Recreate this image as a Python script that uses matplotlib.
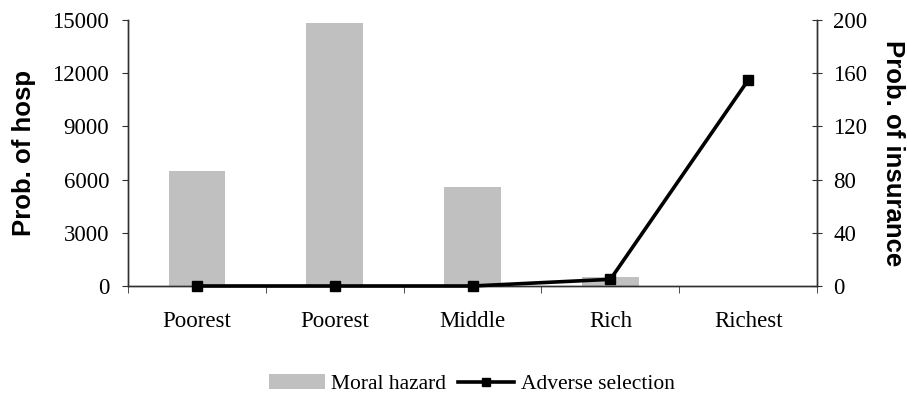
import matplotlib.pyplot as plt
import numpy as np
from matplotlib.patches import Patch
from matplotlib.lines import Line2D

categories = ["Poorest", "Poorest", "Middle", "Rich", "Richest"]
moral_hazard = [6500, 14850, 5600, 500, 0]
adverse_selection = [0, 0, 0, 5, 155]

serif = "Liberation Serif"
sans = "Liberation Sans"

fig = plt.figure(figsize=(9.07, 3.95), dpi=100)
ax = fig.add_axes([0.141, 0.276, 0.760, 0.673])
ax2 = ax.twinx()

x = np.arange(len(categories))
ax.bar(x, moral_hazard, width=0.41, color="#c0c0c0", zorder=1)
ax2.plot(x, adverse_selection, color="black", linewidth=2.6,
         marker="s", markersize=7.7, zorder=3, clip_on=False)

ax.set_xlim(-0.5, len(categories) - 0.5)
ax.set_ylim(0, 15000)
ax.set_yticks(np.arange(0, 15001, 3000))
ax2.set_ylim(0, 200)
ax2.set_yticks(np.arange(0, 201, 40))

# category labels centred, ticks on the boundaries between them
ax.set_xticks(x)
ax.set_xticklabels(categories, fontfamily=serif, fontsize=16.5)
ax.set_xticks(np.arange(-0.5, len(categories), 1), minor=True)
ax.tick_params(axis="x", which="major", length=0, pad=18)
ax.tick_params(axis="x", which="minor", length=5, direction="out", color="#303030")
ax.tick_params(axis="y", length=4.5, direction="out", color="#303030", pad=9)
ax2.tick_params(axis="y", length=7, direction="inout", color="#303030", pad=8)

for lab in ax.get_yticklabels() + ax2.get_yticklabels():
    lab.set_fontfamily(serif)
    lab.set_fontsize(16.5)

for a in (ax, ax2):
    a.spines["top"].set_visible(False)
    for s in ("left", "right", "bottom"):
        a.spines[s].set_color("#303030")
        a.spines[s].set_linewidth(1)

ax.set_ylabel("Prob. of hosp", fontfamily=sans, fontweight="bold", fontsize=18.5, labelpad=12)
ax2.set_ylabel("Prob. of insurance", fontfamily=sans, fontweight="bold", fontsize=18.5,
               rotation=270, labelpad=27)

ax.set_zorder(ax2.get_zorder() - 1)
ax2.patch.set_visible(False)

# legend sits under the plot area, centred on the axes rather than the figure
handles = [Patch(facecolor="#c0c0c0", edgecolor="none"),
           Line2D([0], [0], color="black", linewidth=2.6, marker="s", markersize=6)]
fig.legend(handles, ["Moral hazard", "Adverse selection"], loc="center",
           bbox_to_anchor=(0.52, 0.027), ncol=2, frameon=False,
           prop={"family": serif, "size": 15.5}, handlelength=2.6,
           handletextpad=0.3, columnspacing=0.55, borderpad=0)

fig.savefig("out.png", dpi=100)
